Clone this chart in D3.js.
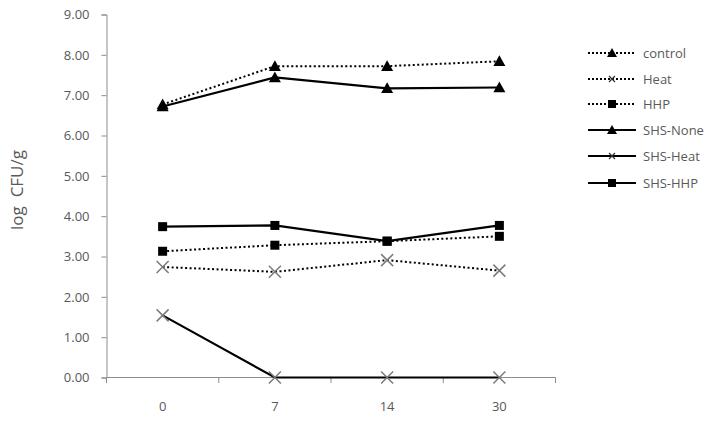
<!DOCTYPE html>
<html><head><meta charset="utf-8">
<script src="https://cdn.jsdelivr.net/npm/d3@7"></script>
<style>body{margin:0;background:#fff}svg{display:block}text{font-family:"Open Sans","Noto Sans",sans-serif}</style>
</head><body><svg id="c" width="714" height="423"></svg>
<script>
const days = ["0","7","14","30"];
const yTicks = [0,1,2,3,4,5,6,7,8,9];
const seriesNames = ["control","Heat","HHP","SHS-None","SHS-Heat","SHS-HHP"];
const control = [6.77,7.72,7.72,7.84];
const heat = [2.74,2.62,2.91,2.65];
const hhp = [3.13,3.28,3.38,3.50];
const shsNone = [6.72,7.44,7.17,7.19];
const shsHeat = [1.54,0,0,0];
const shsHhp = [3.74,3.77,3.38,3.77];
const seriesValues = [control,heat,hhp,shsNone,shsHeat,shsHhp];
const seriesMarker = ["tri","x","sq","tri","x","sq"];
const seriesDotted = [true,true,true,false,false,false];

const svg = d3.select("#c");
const x = d3.scaleBand().domain(days).range([106.5,555.5]);
const y = d3.scaleLinear().domain([0,9]).range([377.5,14.5]);

// axes
const gy = svg.append("g").attr("transform","translate(106.5,0)")
  .call(d3.axisLeft(y).tickValues(yTicks).tickSize(5).tickPadding(12).tickFormat(d3.format(".2f")));
const gx = svg.append("g").attr("transform","translate(0,377.5)")
  .call(d3.axisBottom(x).tickSize(0).tickPadding(24));
[gy,gx].forEach(g=>{
  g.selectAll("path,line").attr("stroke","#8c8c8c");
  g.selectAll("text").attr("fill","#595959").style("font-size","13px");
});
gx.select(".domain").attr("d","M106.5,0H555.5");
// x category boundary ticks
const bounds = [...days.map(d=>x(d)), x.range()[1]];
svg.append("g").selectAll("line").data(bounds).join("line")
  .attr("x1",d=>d).attr("x2",d=>d).attr("y1",377.5).attr("y2",383)
  .attr("stroke","#8c8c8c");

svg.append("text").attr("transform","translate(23,190) rotate(-90)")
  .attr("text-anchor","middle").attr("fill","#595959").style("font-size","17px")
  .style("white-space","pre").text("log  CFU/g");

function marker(g, type, cx, cy, legend){
  if(type==="tri"){
    const s = legend?5:6;
    g.append("path").attr("d",`M${cx},${cy-s}L${cx+s},${cy+s*0.8}L${cx-s},${cy+s*0.8}Z`).attr("fill","#000");
  } else if(type==="sq"){
    const s = legend?4:4.5;
    g.append("rect").attr("x",cx-s).attr("y",cy-s).attr("width",2*s).attr("height",2*s).attr("fill","#000");
  } else {
    const s = legend?3:6;
    g.append("path").attr("d",`M${cx-s},${cy-s}L${cx+s},${cy+s}M${cx-s},${cy+s}L${cx+s},${cy-s}`)
      .attr("stroke",legend?"#333":"#7a7a7a").attr("stroke-width",legend?1.2:1.5).attr("fill","none");
  }
}

const line = d3.line().x((d,i)=>x(days[i])+x.bandwidth()/2).y(d=>y(d));
seriesValues.forEach((vals,k)=>{
  const g = svg.append("g");
  g.append("path").datum(vals).attr("d",line).attr("fill","none").attr("stroke","#000")
    .attr("stroke-width",seriesDotted[k]?2:2.2)
    .attr("stroke-dasharray",seriesDotted[k]?"2,2.5":null);
  vals.forEach((v,i)=>marker(g,seriesMarker[k],x(days[i])+x.bandwidth()/2,y(v),false));
});

// legend
const ly = [53,79,104,130,156,183];
seriesNames.forEach((n,k)=>{
  const g = svg.append("g");
  g.append("line").attr("x1",588).attr("x2",636).attr("y1",ly[k]).attr("y2",ly[k])
    .attr("stroke","#000").attr("stroke-width",seriesDotted[k]?1.8:2.2)
    .attr("stroke-dasharray",seriesDotted[k]?"2,2":null);
  marker(g,seriesMarker[k],612,ly[k],true);
  g.append("text").attr("x",643).attr("y",ly[k]).attr("dy","0.35em")
    .attr("fill","#595959").style("font-size","13px").text(n);
});
</script></body></html>
